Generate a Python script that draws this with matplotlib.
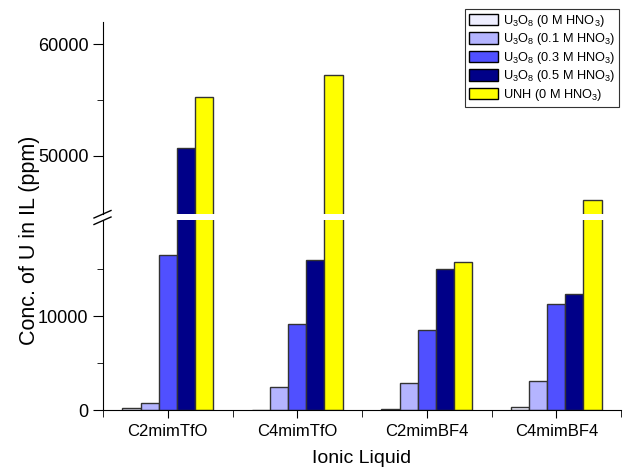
import matplotlib
matplotlib.use("Agg")
import matplotlib.pyplot as plt
import numpy as np
from matplotlib.lines import Line2D
from matplotlib.patches import Patch

plt.rcParams['font.family'] = ['Liberation Sans', 'DejaVu Sans']
plt.rcParams['mathtext.default'] = 'regular'

# Data (ppm)
liquids = ['C2mimTfO', 'C4mimTfO', 'C2mimBF4', 'C4mimBF4']
u3o8_0m = [230, 90, 190, 340]
u3o8_01m = [760, 2450, 2910, 3100]
u3o8_03m = [16450, 9120, 8520, 11340]
u3o8_05m = [50740, 15930, 15050, 12400]
unh_0m = [55300, 57280, 15790, 46050]

series = [u3o8_0m, u3o8_01m, u3o8_03m, u3o8_05m, unh_0m]
series_labels = [r'U$_3$O$_8$ (0 M HNO$_3$)',
                 r'U$_3$O$_8$ (0.1 M HNO$_3$)',
                 r'U$_3$O$_8$ (0.3 M HNO$_3$)',
                 r'U$_3$O$_8$ (0.5 M HNO$_3$)',
                 r'UNH (0 M HNO$_3$)']
colors = ['#EEEEFF', '#B4B4FF', '#5050FF', '#000088', '#FFFF00']

W, H = 626, 473
fig = plt.figure(figsize=(W / 100, H / 100), dpi=100)
ax_lo = fig.add_axes([103 / W, 1 - 410.5 / H, 518 / W, 190.5 / H])
ax_hi = fig.add_axes([103 / W, 1 - 214 / H, 518 / W, 192 / H])

x = np.arange(len(liquids))
bw = 0.14
for ax in (ax_lo, ax_hi):
    for i, vals in enumerate(series):
        ax.bar(x + (i - 2) * bw, vals, width=bw, color=colors[i],
               edgecolor='#333333', linewidth=1.0)
    ax.set_xlim(-0.5, 3.5)
    for s in ('top', 'right'):
        ax.spines[s].set_visible(False)
    ax.tick_params(axis='y', which='major', direction='out', length=7, labelsize=13)
    ax.tick_params(axis='y', which='minor', direction='out', length=4)

ax_lo.set_ylim(0, 20200)
ax_lo.set_yticks([0, 10000])
ax_lo.set_yticks([5000, 15000], minor=True)
ax_lo.set_xticks(x)
ax_lo.set_xticklabels(liquids)
ax_lo.set_xticks([-0.5, 0.5, 1.5, 2.5, 3.5], minor=True)
ax_lo.tick_params(axis='x', which='major', direction='out', length=6, labelsize=12)
ax_lo.tick_params(axis='x', which='minor', direction='out', length=5)
ax_lo.set_xlabel('Ionic Liquid', fontsize=14, labelpad=8)

ax_hi.set_ylim(44800, 62000)
ax_hi.set_yticks([50000, 60000])
ax_hi.set_yticks([55000], minor=True)
ax_hi.spines['bottom'].set_visible(False)
ax_hi.set_xticks([])

fig.text(30 / W, 1 - 240 / H, 'Conc. of U in IL (ppm)', rotation=90,
         fontsize=15.5, ha='center', va='center')

# axis break marks
for y0 in (218, 224.5):
    fig.add_artist(Line2D([94 / W, 111 / W], [1 - y0 / H, 1 - (y0 - 7.5) / H],
                          transform=fig.transFigure, color='black', lw=1))

handles = [Patch(facecolor=c, edgecolor='black', linewidth=1) for c in colors]
leg = ax_hi.legend(handles, series_labels, loc='upper right',
                   bbox_to_anchor=(619 / W, 1 - 9 / H), bbox_transform=fig.transFigure,
                   fancybox=False, framealpha=1, edgecolor='#333333', fontsize=9.2,
                   handlelength=2.3, handleheight=1.0, handletextpad=0.35,
                   labelspacing=0.2, borderpad=0.3, borderaxespad=0)
leg.get_frame().set_linewidth(0.8)

fig.savefig('out.png', dpi=100)
